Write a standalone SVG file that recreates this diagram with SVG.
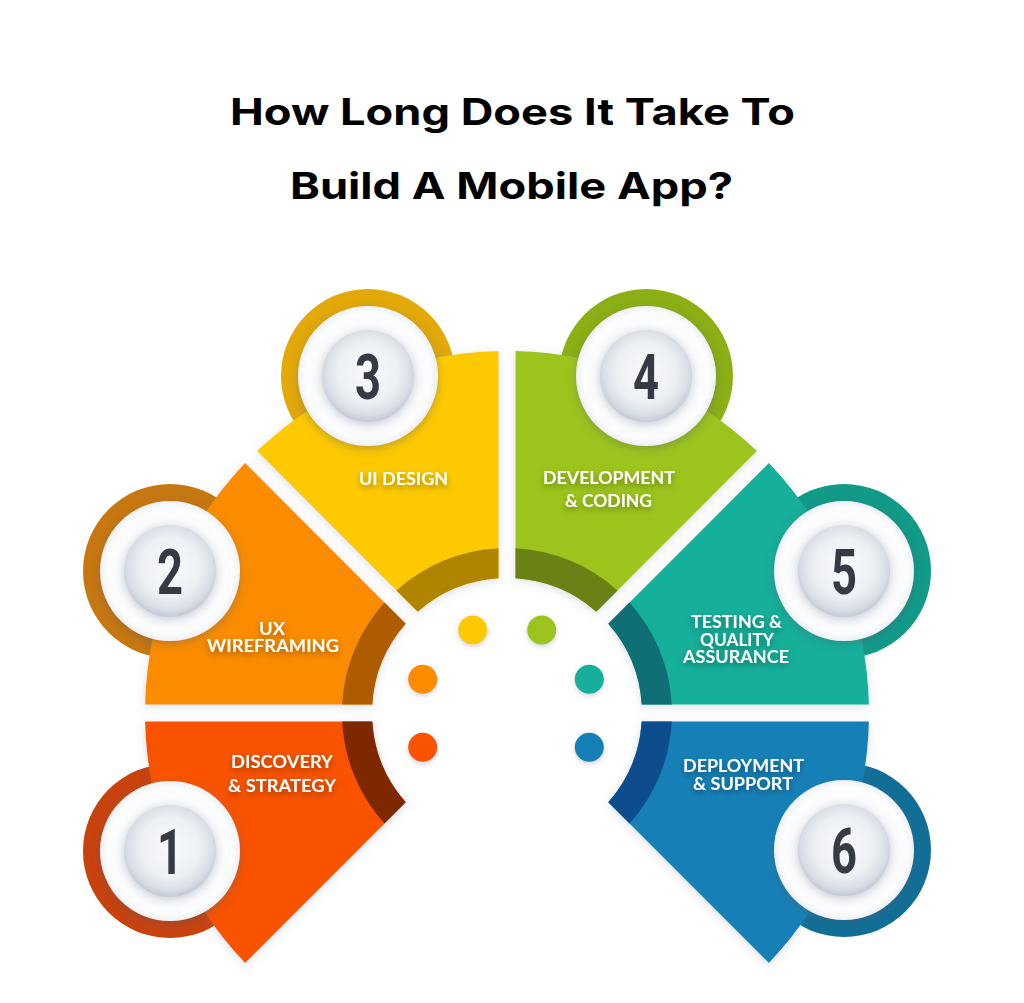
<svg xmlns="http://www.w3.org/2000/svg" width="1024" height="1003" viewBox="0 0 1024 1003">
<defs>
<filter id="segShadow" x="-20%" y="-20%" width="140%" height="140%">
<feDropShadow dx="0" dy="2" stdDeviation="5" flood-color="#5A6A8A" flood-opacity="0.22"/>
</filter>
<filter id="diskShadow" x="-30%" y="-30%" width="160%" height="160%">
<feDropShadow dx="0" dy="3" stdDeviation="5" flood-color="#4A5670" flood-opacity="0.35"/>
</filter>
<filter id="innerShadow" x="-30%" y="-30%" width="160%" height="160%">
<feDropShadow dx="0" dy="2" stdDeviation="6" flood-color="#8A96AA" flood-opacity="0.55"/>
</filter>
<filter id="txtShadow" x="-20%" y="-60%" width="140%" height="220%">
<feDropShadow dx="0" dy="3" stdDeviation="3" flood-color="#000000" flood-opacity="0.35"/>
</filter>
<filter id="dotShadow" x="-50%" y="-50%" width="200%" height="200%">
<feDropShadow dx="0" dy="2" stdDeviation="2.5" flood-color="#5A6A8A" flood-opacity="0.3"/>
</filter>
<radialGradient id="gInner" cx="50%" cy="46%" r="54%">
<stop offset="0" stop-color="#F8F9FB"/>
<stop offset="0.6" stop-color="#EDF0F4"/>
<stop offset="0.86" stop-color="#D9DEE6"/>
<stop offset="1" stop-color="#C2C9D5"/>
</radialGradient>
<radialGradient id="gWhite" cx="50%" cy="50%" r="50%">
<stop offset="0.6" stop-color="#FFFFFF"/>
<stop offset="0.9" stop-color="#FBFCFD"/>
<stop offset="1" stop-color="#EEF0F4"/>
</radialGradient>
</defs>
<style>
.title{font-family:Inter,"Liberation Sans",sans-serif;font-weight:700;font-size:37px;fill:#000;text-anchor:middle}
.lbl{font-family:Lato,"Liberation Sans",sans-serif;font-weight:700;font-size:16.5px;fill:#FFFFFF;text-anchor:middle;filter:url(#txtShadow)}
.num{font-family:Roboto,"Liberation Sans",sans-serif;font-weight:700;font-size:63px;fill:#353A44;text-anchor:middle}
.seg{filter:url(#segShadow)}
.white{fill:url(#gWhite);filter:url(#diskShadow)}
.inner{fill:url(#gInner);filter:url(#innerShadow)}
.dot{filter:url(#dotShadow)}
</style>
<rect x="0" y="0" width="1024" height="1003" fill="#FFFFFF"/>
<g id="title">
<text class="title" x="512.5" y="125" textLength="565" lengthAdjust="spacingAndGlyphs">How Long Does It Take To</text>
<text class="title" x="511.5" y="199" textLength="443" lengthAdjust="spacingAndGlyphs">Build A Mobile App?</text>
</g>
<g id="connectors"></g>
<g id="node-1">
<circle cx="170" cy="851" r="87" fill="#C8420E"/>
<path class="seg" d="M405.72,802.26 L245.09,962.89 A362,362 0 0 1 145.10,721.5 L372.27,721.5 A135,135 0 0 0 405.72,802.26 Z" fill="#F95300"/>
<path d="M405.72,802.26 L384.47,823.51 A165,165 0 0 1 342.22,721.5 L372.27,721.5 A135,135 0 0 0 405.72,802.26 Z" fill="#7E2800"/>
<circle class="white" cx="170" cy="851" r="70"/>
<circle class="inner" cx="170" cy="851" r="46"/>
<text class="num" transform="translate(170,874) scale(0.72,1)" x="0" y="0">1</text>
<text class="lbl" x="282" y="768" textLength="102" lengthAdjust="spacingAndGlyphs">DISCOVERY</text>
<text class="lbl" x="282" y="792" textLength="108" lengthAdjust="spacingAndGlyphs">&amp; STRATEGY</text>
<circle class="dot" cx="422.7" cy="747.3" r="14.5" fill="#F95300"/>
</g>
<g id="node-2">
<circle cx="170" cy="571" r="87" fill="#C7770F"/>
<path class="seg" d="M372.27,704.5 L145.10,704.5 A362,362 0 0 1 245.09,463.11 L405.72,623.74 A135,135 0 0 0 372.27,704.5 Z" fill="#FB8C00"/>
<path d="M372.27,704.5 L342.22,704.5 A165,165 0 0 1 384.47,602.49 L405.72,623.74 A135,135 0 0 0 372.27,704.5 Z" fill="#AD5D00"/>
<circle class="white" cx="170" cy="571" r="70"/>
<circle class="inner" cx="170" cy="571" r="46"/>
<text class="num" transform="translate(170,594) scale(0.72,1)" x="0" y="0">2</text>
<text class="lbl" x="272" y="635" textLength="26" lengthAdjust="spacingAndGlyphs">UX</text>
<text class="lbl" x="273" y="652" textLength="132" lengthAdjust="spacingAndGlyphs">WIREFRAMING</text>
<circle class="dot" cx="422.7" cy="679.3" r="14.5" fill="#FB8C00"/>
</g>
<g id="node-3">
<circle cx="368" cy="376" r="87" fill="#E3A909"/>
<path class="seg" d="M417.74,611.72 L257.11,451.09 A362,362 0 0 1 498.5,351.10 L498.5,578.27 A135,135 0 0 0 417.74,611.72 Z" fill="#FDC900"/>
<path d="M417.74,611.72 L396.49,590.47 A165,165 0 0 1 498.5,548.22 L498.5,578.27 A135,135 0 0 0 417.74,611.72 Z" fill="#AF8500"/>
<circle class="white" cx="368" cy="376" r="70"/>
<circle class="inner" cx="368" cy="376" r="46"/>
<text class="num" transform="translate(368,399) scale(0.72,1)" x="0" y="0">3</text>
<text class="lbl" x="403.5" y="485" textLength="89" lengthAdjust="spacingAndGlyphs">UI DESIGN</text>
<circle class="dot" cx="472.7" cy="630" r="14.5" fill="#FDC900"/>
</g>
<g id="node-4">
<circle cx="646" cy="376" r="87" fill="#8BAF14"/>
<path class="seg" d="M515.5,578.27 L515.5,351.10 A362,362 0 0 1 756.89,451.09 L596.26,611.72 A135,135 0 0 0 515.5,578.27 Z" fill="#9DC41B"/>
<path d="M515.5,578.27 L515.5,548.22 A165,165 0 0 1 617.51,590.47 L596.26,611.72 A135,135 0 0 0 515.5,578.27 Z" fill="#6A8215"/>
<circle class="white" cx="646" cy="376" r="70"/>
<circle class="inner" cx="646" cy="376" r="46"/>
<text class="num" transform="translate(646,399) scale(0.72,1)" x="0" y="0">4</text>
<text class="lbl" x="609" y="484" textLength="132" lengthAdjust="spacingAndGlyphs">DEVELOPMENT</text>
<text class="lbl" x="608.5" y="507" textLength="87" lengthAdjust="spacingAndGlyphs">&amp; CODING</text>
<circle class="dot" cx="541.7" cy="630" r="14.5" fill="#9DC41B"/>
</g>
<g id="node-5">
<circle cx="844" cy="571" r="87" fill="#119A88"/>
<path class="seg" d="M608.28,623.74 L768.91,463.11 A362,362 0 0 1 868.90,704.5 L641.73,704.5 A135,135 0 0 0 608.28,623.74 Z" fill="#15AF9A"/>
<path d="M608.28,623.74 L629.53,602.49 A165,165 0 0 1 671.78,704.5 L641.73,704.5 A135,135 0 0 0 608.28,623.74 Z" fill="#0F6F74"/>
<circle class="white" cx="844" cy="571" r="70"/>
<circle class="inner" cx="844" cy="571" r="46"/>
<text class="num" transform="translate(844,594) scale(0.72,1)" x="0" y="0">5</text>
<text class="lbl" x="736.5" y="628" textLength="91" lengthAdjust="spacingAndGlyphs">TESTING &amp;</text>
<text class="lbl" x="737" y="646" textLength="74" lengthAdjust="spacingAndGlyphs">QUALITY</text>
<text class="lbl" x="736" y="663" textLength="106" lengthAdjust="spacingAndGlyphs">ASSURANCE</text>
<circle class="dot" cx="589.3" cy="679.3" r="14.5" fill="#15AF9A"/>
</g>
<g id="node-6">
<circle cx="844" cy="850" r="87" fill="#116F97"/>
<path class="seg" d="M641.73,721.5 L868.90,721.5 A362,362 0 0 1 768.91,962.89 L608.28,802.26 A135,135 0 0 0 641.73,721.5 Z" fill="#1680B6"/>
<path d="M641.73,721.5 L671.78,721.5 A165,165 0 0 1 629.53,823.51 L608.28,802.26 A135,135 0 0 0 641.73,721.5 Z" fill="#0D4D8D"/>
<circle class="white" cx="844" cy="850" r="70"/>
<circle class="inner" cx="844" cy="850" r="46"/>
<text class="num" transform="translate(844,873) scale(0.72,1)" x="0" y="0">6</text>
<text class="lbl" x="743.5" y="772" textLength="121" lengthAdjust="spacingAndGlyphs">DEPLOYMENT</text>
<text class="lbl" x="743" y="790" textLength="100" lengthAdjust="spacingAndGlyphs">&amp; SUPPORT</text>
<circle class="dot" cx="589.3" cy="747.3" r="14.5" fill="#1680B6"/>
</g>
</svg>
